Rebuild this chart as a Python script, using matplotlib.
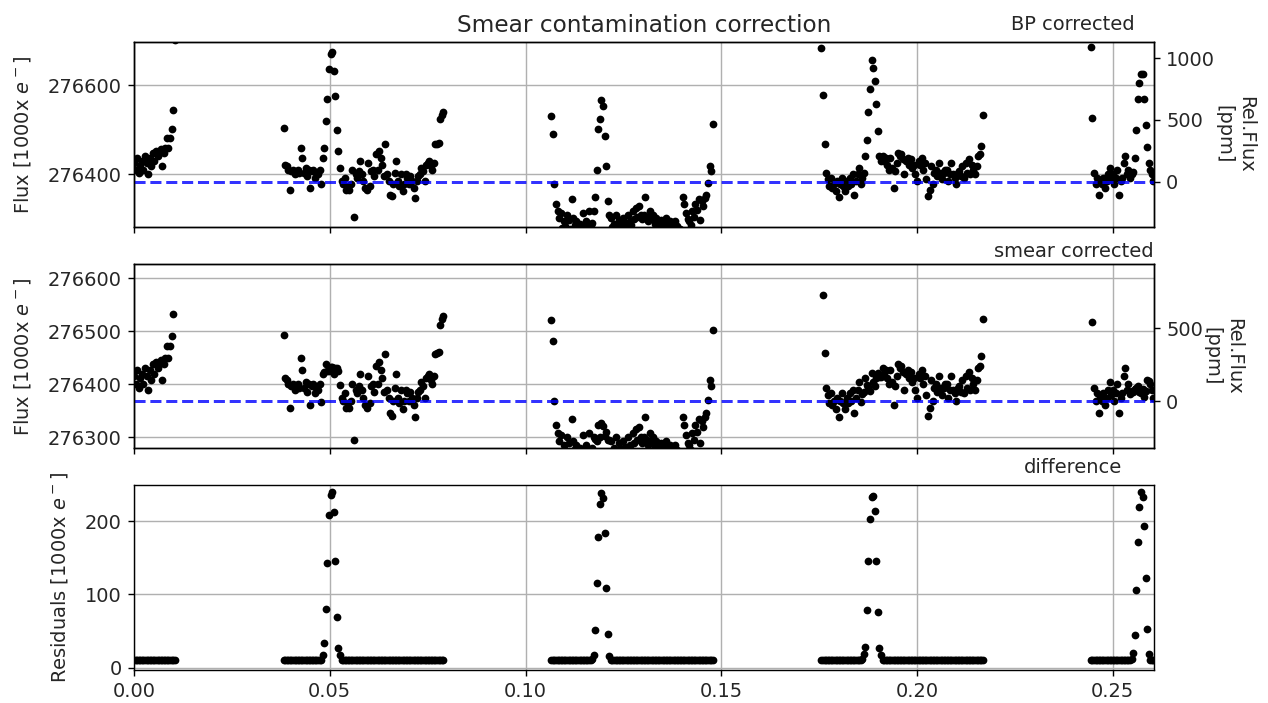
import numpy as np
import matplotlib
matplotlib.use("Agg")
import matplotlib.pyplot as plt
from matplotlib.ticker import MultipleLocator

# time sampling of the visits (days)
cadence = 0.0004
seg_start = [0.0, 0.0382, 0.1066, 0.1756, 0.2444]

# BP corrected flux [1000x e-], one list per visit
bp_seg1 = [276425, 276410, 276437, 276404, 276422, 276430, 276411, 276441, 276426, 276400,
           276437, 276419, 276449, 276430, 276452, 276441, 276449, 276456, 276419, 276449,
           276460, 276482, 276460, 276482, 276501, 276543, 276700]
bp_seg2 = [276504, 276422, 276419, 276411, 276366, 276407, 276411, 276400, 276404, 276411,
           276404, 276460, 276437, 276404, 276415, 276396, 276411, 276370, 276407, 276411,
           276393, 276404, 276400, 276411, 276378, 276437, 276458, 276519, 276569, 276635,
           276669, 276673, 276631, 276575, 276500, 276452, 276415, 276385, 276378, 276393,
           276366, 276374, 276366, 276378, 276411, 276305, 276400, 276393, 276407, 276430,
           276400, 276385, 276370, 276366, 276426, 276374, 276407, 276411, 276396, 276445,
           276411, 276452, 276437, 276422, 276396, 276467, 276400, 276385, 276355, 276351,
           276378, 276404, 276430, 276385, 276374, 276400, 276363, 276378, 276400, 276393,
           276378, 276396, 276385, 276370, 276348, 276385, 276396, 276400, 276415, 276407,
           276385, 276422, 276426, 276430, 276419, 276411, 276426, 276467, 276469, 276471,
           276523, 276534, 276540]
bp_seg3 = [276531, 276491, 276378, 276333, 276318, 276303, 276314, 276280, 276295, 276285,
           276310, 276299, 276278, 276344, 276303, 276288, 276295, 276280, 276290, 276275,
           276314, 276284, 276295, 276278, 276318, 276286, 276292, 276318, 276349, 276409,
           276501, 276523, 276566, 276553, 276487, 276419, 276340, 276310, 276303, 276282,
           276290, 276310, 276280, 276299, 276288, 276276, 276303, 276292, 276284, 276310,
           276296, 276286, 276318, 276300, 276325, 276305, 276329, 276310, 276300, 276310,
           276349, 276305, 276295, 276318, 276300, 276310, 276290, 276303, 276285, 276295,
           276299, 276282, 276292, 276303, 276288, 276280, 276295, 276284, 276276, 276295,
           276285, 276272, 276278, 276268, 276349, 276333, 276314, 276300, 276295, 276286,
           276318, 276305, 276333, 276320, 276344, 276299, 276340, 276330, 276348, 276355,
           276381, 276419, 276407, 276513]
bp_seg4 = [276682, 276578, 276469, 276404, 276389, 276374, 276393, 276370, 276378, 276363,
           276385, 276349, 276378, 276393, 276374, 276363, 276385, 276374, 276393, 276378,
           276400, 276355, 276385, 276400, 276415, 276378, 276393, 276404, 276441, 276478,
           276540, 276590, 276655, 276639, 276610, 276557, 276497, 276441, 276430, 276441,
           276430, 276437, 276422, 276411, 276437, 276415, 276370, 276407, 276426, 276449,
           276441, 276445, 276434, 276400, 276430, 276437, 276422, 276434, 276415, 276422,
           276400, 276385, 276430, 276422, 276437, 276411, 276426, 276389, 276351, 276366,
           276419, 276378, 276404, 276411, 276396, 276426, 276404, 276389, 276404, 276411,
           276411, 276385, 276400, 276426, 276400, 276393, 276378, 276404, 276407, 276396,
           276419, 276393, 276426, 276404, 276434, 276400, 276422, 276411, 276400, 276419,
           276441, 276445, 276463, 276533]
bp_seg5 = [276685, 276527, 276404, 276378, 276393, 276355, 276385, 276378, 276393, 276370,
           276385, 276400, 276415, 276389, 276400, 276378, 276393, 276411, 276355, 276385,
           276393, 276426, 276441, 276400, 276411, 276393, 276400, 276405, 276436, 276500,
           276568, 276605, 276624, 276624, 276569, 276510, 276461, 276426, 276411, 276400,
           276385]

# difference BP - smear corrected [1000x e-]
diff_seg1 = [10, 10, 10, 10, 10, 10, 10, 10, 10, 10, 10, 10, 10, 10, 10, 10, 10, 10, 10, 10,
             10, 10, 10, 10, 10, 10, 10]
diff_seg2 = [10, 10, 10, 10, 10, 10, 10, 10, 10, 10, 10, 10, 10, 10, 10, 10, 10, 10, 10, 10,
             10, 10, 10, 10, 11, 17, 34, 80, 143, 209, 236, 240, 212, 145, 69, 27, 17, 11, 10, 10,
             10, 10, 10, 10, 10, 10, 10, 10, 10, 10, 10, 10, 10, 10, 10, 10, 10, 10, 10, 10,
             10, 10, 10, 10, 10, 10, 10, 10, 10, 10, 10, 10, 10, 10, 10, 10, 10, 10, 10, 10,
             10, 10, 10, 10, 10, 10, 10, 10, 10, 10, 10, 10, 10, 10, 10, 10, 10, 10, 10, 10,
             10, 10, 10]
diff_seg3 = [10, 10, 10, 10, 10, 10, 10, 10, 10, 10, 10, 10, 10, 10, 10, 10, 10, 10, 10, 10,
             10, 10, 10, 10, 10, 11, 12, 18, 52, 116, 178, 223, 239, 232, 184, 109, 46, 16, 11, 10,
             10, 10, 10, 10, 10, 10, 10, 10, 10, 10, 10, 10, 10, 10, 10, 10, 10, 10, 10, 10,
             10, 10, 10, 10, 10, 10, 10, 10, 10, 10, 10, 10, 10, 10, 10, 10, 10, 10, 10, 10,
             10, 10, 10, 10, 10, 10, 10, 10, 10, 10, 10, 10, 10, 10, 10, 10, 10, 10, 10, 10,
             10, 10, 10, 10]
diff_seg4 = [10, 10, 10, 10, 10, 10, 10, 10, 10, 10, 10, 10, 10, 10, 10, 10, 10, 10, 10, 10,
             10, 10, 10, 10, 10, 11, 12, 19, 29, 79, 145, 203, 233, 235, 214, 145, 76, 27, 17, 10,
             10, 10, 10, 10, 10, 10, 10, 10, 10, 10, 10, 10, 10, 10, 10, 10, 10, 10, 10, 10,
             10, 10, 10, 10, 10, 10, 10, 10, 10, 10, 10, 10, 10, 10, 10, 10, 10, 10, 10, 10,
             10, 10, 10, 10, 10, 10, 10, 10, 10, 10, 10, 10, 10, 10, 10, 10, 10, 10, 10, 10,
             10, 10, 10, 10]
diff_seg5 = [10, 10, 10, 10, 10, 10, 10, 10, 10, 10, 10, 10, 10, 10, 10, 10, 10, 10, 10, 10,
             10, 10, 10, 10, 10, 11, 12, 20, 45, 106, 171, 219, 240, 233, 193, 122, 53, 19, 10, 10,
             10]

# reference flux levels (dashed lines) and plot ranges
bp_level = 276384
smear_level = 276368
bp_ylim = (276283, 276696)
smear_ylim = (276279, 276628)
diff_ylim = (-3, 249)
x_max = 0.2605

bp_segs = [bp_seg1, bp_seg2, bp_seg3, bp_seg4, bp_seg5]
diff_segs = [diff_seg1, diff_seg2, diff_seg3, diff_seg4, diff_seg5]

t = np.concatenate([s + cadence * np.arange(len(v)) for s, v in zip(seg_start, bp_segs)])
bp = np.concatenate(bp_segs).astype(float)
diff = np.concatenate(diff_segs).astype(float)
smear = bp - diff  # smear corrected = BP corrected - difference

plt.rcParams["font.size"] = 11
plt.rcParams["text.color"] = "#262626"
plt.rcParams["axes.labelcolor"] = "#262626"
plt.rcParams["xtick.labelcolor"] = "#262626"
plt.rcParams["ytick.labelcolor"] = "#262626"

fig, axs = plt.subplots(3, 1, sharex=True, figsize=(10, 5.545), dpi=126.8)
fig.subplots_adjust(left=0.1057, right=0.910, top=0.940, bottom=0.047, hspace=0.2)

ms = 4.4
flux_label = r"Flux [1000x $e^-$]"


def flux_panel(ax, flux, level, ylim, step, ppm_ticks, label, label_y, label_x):
    ax.plot(t, flux, "o", color="k", ms=ms, mew=0)
    ax.axhline(level, color="b", ls="--", lw=1.7, alpha=0.8, zorder=3)
    ax.set_ylim(ylim)
    ax.yaxis.set_major_locator(MultipleLocator(step))
    ax.ticklabel_format(axis="y", useOffset=False, style="plain")
    ax.set_ylabel(flux_label, labelpad=8.5)
    ax.grid(True)
    ax.text(label_x, label_y, label, transform=ax.transAxes, ha="right", va="baseline")
    # relative flux axis on the right
    ax2 = ax.twinx()
    ax2.set_ylim((np.array(ylim) / level - 1) * 1e6)
    ax2.set_yticks(ppm_ticks)
    ax2.set_ylabel("Rel.Flux\n[ppm]", rotation=270, va="bottom", labelpad=-0.5)
    return ax2


flux_panel(axs[0], bp, bp_level, bp_ylim, 200, [0, 500, 1000], "BP corrected", 1.065, 0.981)
axs[0].set_title("Smear contamination correction", fontsize=13.2)
flux_panel(axs[1], smear, smear_level, smear_ylim, 100, [0, 500], "smear corrected", 1.038, 1.0)

ax = axs[2]
ax.plot(t, diff, "o", color="k", ms=ms, mew=0)
ax.set_ylim(diff_ylim)
ax.set_yticks([0, 100, 200])
ax.set_ylabel(r"Residuals [1000x $e^-$]", labelpad=8.5)
ax.grid(True)
ax.text(0.969, 1.065, "difference", transform=ax.transAxes, ha="right", va="baseline")
ax.set_xlim(0, x_max)
ax.set_xticks([0.0, 0.05, 0.10, 0.15, 0.20, 0.25])
ax.xaxis.set_major_formatter(matplotlib.ticker.FormatStrFormatter("%.2f"))

fig.savefig("out.png", dpi=126.8)
